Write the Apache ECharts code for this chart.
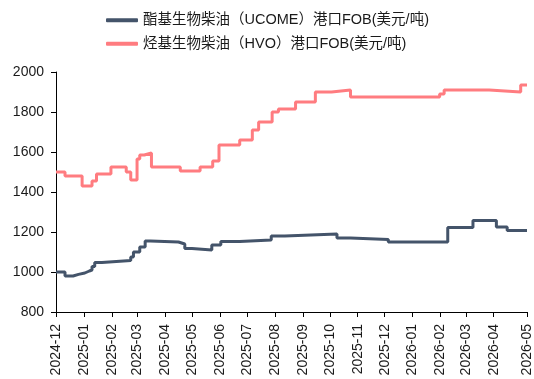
<!DOCTYPE html>
<html>
<head>
<meta charset="utf-8">
<script src="https://cdn.jsdelivr.net/npm/echarts@6/dist/echarts.min.js"></script>
<style>
  html, body { margin: 0; padding: 0; background: #fff; }
  #main { width: 534px; height: 379px; }
</style>
</head>
<body>
<div id="main"></div>
<script>
// 酯基生物柴油 (UCOME) 港口FOB, step changes
const ucomeDates = ['2024-12-01','2024-12-11','2024-12-20','2024-12-26','2025-01-02','2025-01-07','2025-01-10','2025-01-13','2025-01-21','2025-02-22','2025-02-25','2025-03-04','2025-03-10','2025-03-16','2025-04-16','2025-04-23','2025-05-01','2025-05-23','2025-06-02','2025-06-23','2025-07-28','2025-08-12','2025-10-09','2025-10-24','2025-12-05','2026-02-09','2026-03-09','2026-04-04','2026-04-16','2026-05-08'];
const ucomeValues = [1000,980,988,995,1005,1010,1027,1048,1058,1075,1100,1125,1155,1150,1140,1117,1110,1135,1152,1160,1180,1190,1170,1162,1150,1222,1258,1225,1207,1207];

// 烃基生物柴油 (HVO) 港口FOB
const hvoDates = ['2024-12-01','2024-12-11','2024-12-30','2025-01-10','2025-01-15','2025-01-31','2025-02-17','2025-02-22','2025-03-01','2025-03-04','2025-03-09','2025-03-17','2025-04-18','2025-05-10','2025-05-24','2025-05-31','2025-06-23','2025-07-07','2025-07-14','2025-07-29','2025-08-05','2025-08-24','2025-09-15','2025-10-03','2025-10-24','2026-01-31','2026-02-05','2026-03-27','2026-05-01','2026-05-08'];
const hvoValues = [1500,1480,1430,1455,1490,1525,1500,1460,1565,1585,1595,1525,1505,1525,1555,1635,1660,1710,1750,1800,1815,1850,1900,1910,1875,1890,1910,1900,1935,1935];

const seriesNames = ['酯基生物柴油（UCOME）港口FOB(美元/吨)', '烃基生物柴油（HVO）港口FOB(美元/吨)'];
const yTicks = { min: 800, max: 2000, step: 200 };

function pairs(dates, values) {
  return dates.map((d, i) => [d, values[i]]);
}

const chart = echarts.init(document.getElementById('main'));
const day = 24 * 3600 * 1000;
chart.setOption({
  animation: false,
  textStyle: { fontFamily: 'Arial, "Liberation Sans", "Noto Sans CJK SC", sans-serif' },
  legend: {
    orient: 'vertical',
    left: 101,
    top: 8,
    itemGap: 9,
    itemWidth: 32,
    itemHeight: 4,
    icon: 'roundRect',
    textStyle: { fontSize: 14.5, color: '#1a1a1a' },
    data: seriesNames
  },
  grid: { left: 56, right: 0, top: 72, bottom: 67 },
  xAxis: {
    type: 'time',
    min: '2024-12-01',
    max: '2026-05-08',
    minInterval: 28 * day,
    maxInterval: 31 * day,
    splitLine: { show: false },
    axisLine: { lineStyle: { color: '#000', width: 1 } },
    axisTick: { show: true, length: 5, lineStyle: { color: '#000' } },
    minorTick: { show: false },
    axisLabel: {
      rotate: 90,
      margin: 12,
      fontSize: 14,
      color: '#1a1a1a',
      hideOverlap: false,
      showMinLabel: true,
      showMaxLabel: true,
      formatter: function (v) {
        const d = new Date(v);
        const m = d.getMonth() + 1;
        return d.getFullYear() + '-' + (m < 10 ? '0' + m : m);
      }
    }
  },
  yAxis: {
    type: 'value',
    min: yTicks.min,
    max: yTicks.max,
    interval: yTicks.step,
    splitLine: { show: false },
    axisLine: { show: true, lineStyle: { color: '#000', width: 1 } },
    axisTick: { show: true, length: 5, lineStyle: { color: '#000' } },
    axisLabel: { fontSize: 14, color: '#1a1a1a', margin: 12, formatter: v => String(v) }
  },
  series: [
    {
      name: seriesNames[0],
      type: 'line',
      step: 'end',
      showSymbol: false,
      color: '#44546a',
      lineStyle: { width: 3, color: '#44546a' },
      data: pairs(ucomeDates, ucomeValues)
    },
    {
      name: seriesNames[1],
      type: 'line',
      step: 'end',
      showSymbol: false,
      color: '#ff7c80',
      lineStyle: { width: 3, color: '#ff7c80' },
      data: pairs(hvoDates, hvoValues)
    }
  ]
});
window.addEventListener('resize', () => chart.resize());
</script>
</body>
</html>
